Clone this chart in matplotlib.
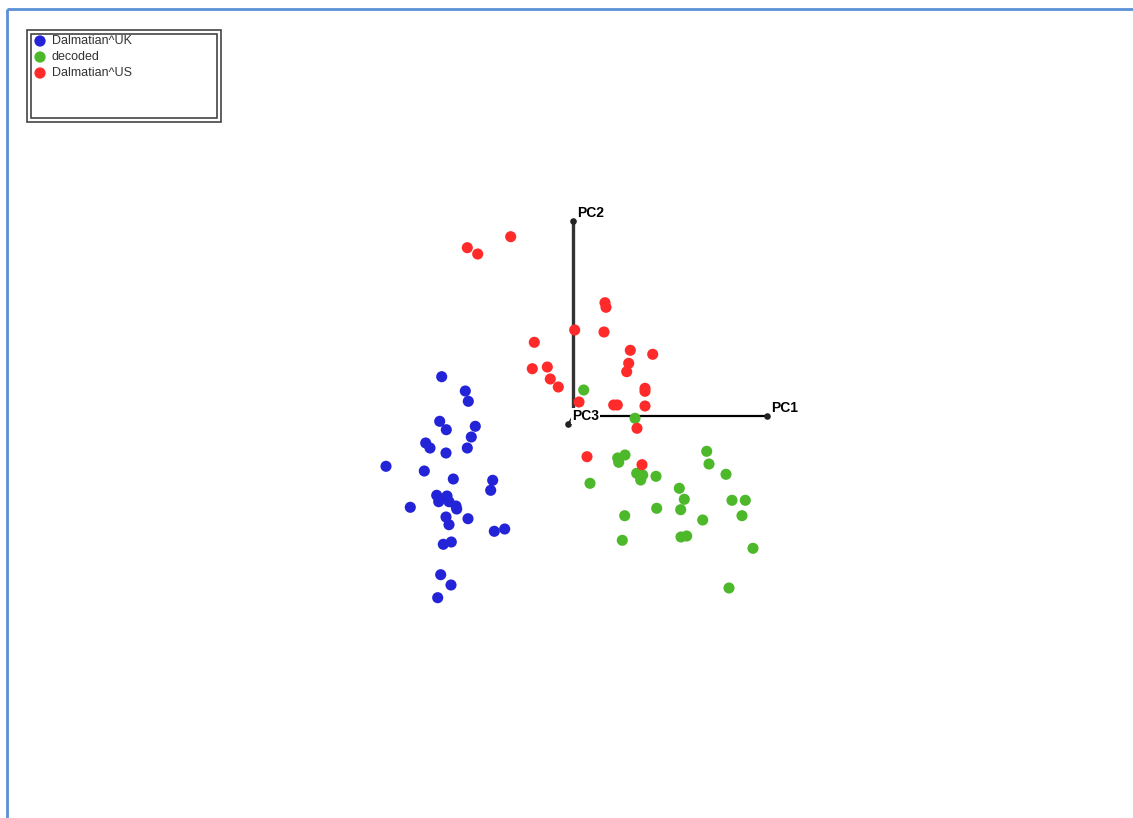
import matplotlib.pyplot as plt
from matplotlib.patches import Rectangle

# projected scores (pixel space of the original viewer, y grows downwards)
uk_x = [441.7, 465.3, 468.3, 439.7, 446.3, 475.3, 471.3, 425.7, 430.0, 446.0,
        467.3, 386.0, 424.3, 453.3, 492.7, 490.7, 436.7, 447.0, 438.7, 449.0,
        456.0, 456.7, 410.3, 446.0, 449.0, 468.0, 494.3, 504.7, 443.3, 451.3,
        440.7, 451.0, 437.7]
uk_y = [376.7, 391.0, 401.3, 421.3, 429.7, 426.3, 437.0, 443.0, 448.0, 453.0,
        448.0, 466.3, 471.0, 479.0, 480.3, 490.3, 495.3, 496.0, 501.7, 501.7,
        506.0, 509.0, 507.3, 517.0, 524.7, 518.7, 531.3, 529.0, 544.3, 542.0,
        574.7, 585.0, 597.7]

dec_x = [583.7, 635.0, 706.7, 625.0, 617.7, 618.7, 709.0, 636.7, 642.7, 640.7,
         656.0, 726.0, 590.0, 679.3, 684.3, 732.0, 745.3, 656.7, 680.7, 742.0,
         624.7, 702.7, 622.3, 681.0, 686.7, 753.0, 729.0]
dec_y = [390.0, 418.3, 451.3, 455.0, 458.0, 462.3, 464.0, 473.3, 475.0, 480.0,
         476.3, 474.3, 483.3, 488.3, 499.3, 500.3, 500.3, 508.3, 509.7, 515.7,
         515.7, 520.0, 540.3, 537.0, 536.0, 548.3, 588.0]

us_x = [510.7, 467.3, 477.7, 605.0, 606.0, 574.7, 604.0, 534.3, 630.3, 652.7,
        628.7, 626.7, 532.3, 547.3, 550.3, 558.3, 645.0, 645.0, 579.0, 613.7,
        617.3, 645.0, 637.0, 587.0, 642.0]
us_y = [236.7, 247.7, 254.0, 302.7, 307.3, 330.0, 332.0, 342.3, 350.3, 354.3,
        363.3, 371.7, 368.7, 367.0, 379.0, 387.0, 388.3, 391.3, 402.0, 405.0,
        405.0, 406.0, 428.3, 456.7, 464.7]

names = ["Dalmatian^UK", "decoded", "Dalmatian^US"]
colors = ["#2323d8", "#4cb82a", "#ff2b2b"]

# principal axis gizmo: origin and end points
origin = (573, 416)
pc_names = ["PC1", "PC2", "PC3"]
pc_ends = [(767, 416), (573, 221), (568, 424)]

fig = plt.figure(figsize=(11.33, 8.18), dpi=100)
ax = fig.add_axes([0, 0, 1, 1])
ax.set_xlim(0, 1133)
ax.set_ylim(818, 0)
ax.axis("off")

# blue frame (only top and left edges visible)
ax.plot([6.5, 6.5], [818, 9], color="#5b8fd6", lw=2, solid_capstyle="butt")
ax.plot([6.5, 1133], [9, 9], color="#5b8fd6", lw=2, solid_capstyle="butt")

# axis lines
widths = [1.6, 2.4, 1.2]
lcols = ["black", "#333333", "#333333"]
for (ex, ey), w, c in zip(pc_ends, widths, lcols):
    ax.plot([origin[0], ex], [origin[1], ey], color=c, lw=w, zorder=2)
    ax.scatter([ex], [ey], s=14, color="#222222", zorder=3)

for series_x, series_y, col in [(uk_x, uk_y, colors[0]), (dec_x, dec_y, colors[1]),
                                (us_x, us_y, colors[2])]:
    ax.scatter(series_x, series_y, s=64, color=col, edgecolors="none", zorder=4)

for (ex, ey), nm in zip(pc_ends, pc_names):
    if nm == "PC3":
        ax.text(ex + 4, ey - 8, nm, fontsize=10, fontweight="bold",
                family="Liberation Sans", va="center", ha="left", zorder=5,
                bbox=dict(facecolor="white", edgecolor="none", pad=0.5))
    else:
        ax.text(ex + 4, ey - 8, nm, fontsize=10, fontweight="bold",
                family="Liberation Sans", va="center", ha="left", zorder=5)

# legend box with double border
ax.add_patch(Rectangle((27, 30), 194, 92, fill=False, edgecolor="#444444", lw=1.2, zorder=6))
ax.add_patch(Rectangle((31, 34), 186, 84, fill=False, edgecolor="#444444", lw=1.2, zorder=6))
for i, (nm, col) in enumerate(zip(names, colors)):
    yy = 41 + i * 16
    ax.scatter([40], [yy], s=66, color=col, edgecolors="none", zorder=7)
    ax.text(52, yy, nm, fontsize=9, family="Liberation Sans", color="#333333",
            va="center", ha="left", zorder=7)

fig.savefig("out.png", dpi=100)
